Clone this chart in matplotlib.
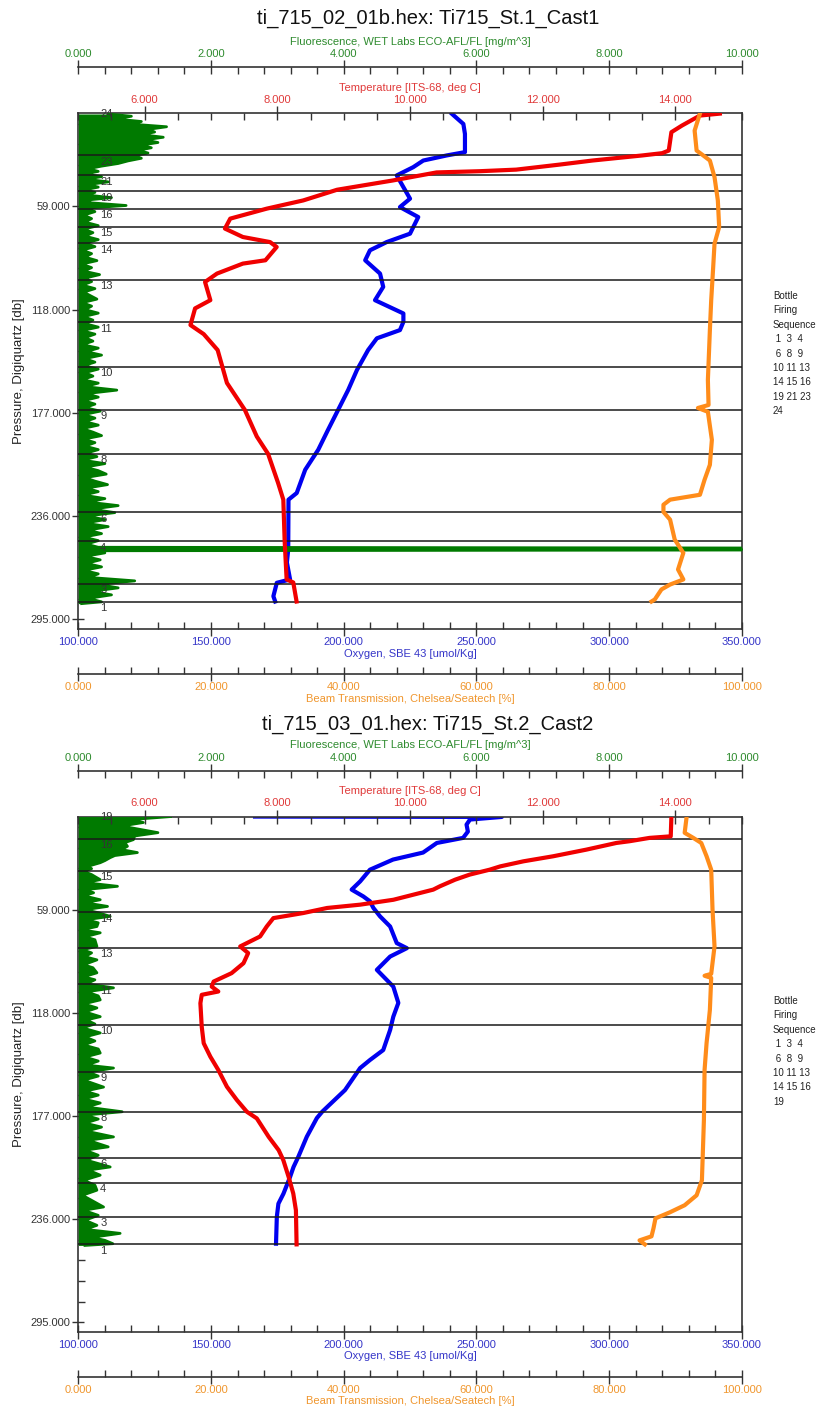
import matplotlib.pyplot as plt
from matplotlib.ticker import MultipleLocator, FixedLocator, FormatStrFormatter

plt.rcParams['font.family'] = ['Liberation Sans', 'DejaVu Sans']

# ---------------- Cast 1 ----------------
c1_title = 'ti_715_02_01b.hex: Ti715_St.1_Cast1'

c1_temp_p = [6.0, 7.1, 12.8, 16.6, 27.1, 28.6, 29.9, 32.8, 35.1, 38.0, 38.9, 39.6, 44.2, 49.5,
             55.6, 60.3, 66.0, 71.7, 76.5, 79.4, 82.2, 89.8, 91.7, 97.4, 102.2, 112.6, 117.3,
             126.8, 132.0, 141.1, 159.9, 175.3, 190.5, 200.4, 216.9, 226.6, 250.0, 272.2,
             273.9, 284.8]
c1_temp = [14.67, 14.37, 14.10, 13.94, 13.90, 13.80, 13.50, 12.75, 12.26, 11.60, 11.05, 10.40,
           9.74, 8.90, 8.39, 7.84, 7.29, 7.21, 7.48, 7.89, 7.99, 7.82, 7.48, 7.09, 6.91, 6.99,
           6.76, 6.69, 6.89, 7.10, 7.24, 7.51, 7.69, 7.86, 8.01, 8.09, 8.11, 8.14, 8.24, 8.29]

c1_oxy_p = [6.0, 11.9, 17.6, 28.0, 29.9, 32.8, 36.6, 41.3, 48.0, 54.6, 59.4, 65.1, 74.6, 79.4,
            84.1, 89.8, 97.4, 105.0, 112.6, 120.2, 125.0, 129.7, 134.4, 141.1, 152.5, 163.9,
            175.3, 186.7, 198.1, 209.5, 222.8, 226.6, 255.1, 262.5, 272.2, 274.1, 281.8, 284.8]
c1_oxy = [240.7, 245.1, 245.7, 245.7, 238.8, 230.0, 226.2, 220.0, 222.5, 225.0, 221.2, 228.1,
          225.0, 216.2, 209.9, 208.1, 213.7, 214.9, 211.8, 222.5, 222.5, 221.2, 212.5, 209.2,
          205.0, 201.7, 197.9, 194.1, 190.4, 185.5, 182.3, 179.2, 179.1, 178.6, 179.8, 174.8,
          173.5, 174.2]

c1_beam_p = [6.0, 15.7, 27.1, 29.9, 32.8, 42.3, 55.6, 70.8, 80.3, 93.6, 112.6, 129.7, 158.2,
             172.5, 174.2, 176.4, 192.4, 206.7, 215.2, 223.8, 226.6, 229.5, 233.6, 238.0, 249.4,
             257.0, 266.5, 272.2, 275.1, 277.9, 283.6, 284.8]
c1_beam = [93.7, 92.9, 93.2, 94.2, 95.2, 95.9, 96.4, 96.6, 95.9, 95.7, 95.4, 95.2, 94.9, 95.0,
           93.4, 94.9, 95.5, 95.2, 94.4, 93.7, 89.2, 88.2, 88.2, 89.2, 89.9, 91.2, 90.4, 91.2,
           89.2, 87.9, 86.9, 86.4]

c1_fl_p = [6.2, 7.5, 9, 10.5, 12, 13.5, 15, 16.5, 18, 19.5, 21, 22.5, 24, 25.5, 27, 28.5, 30,
           31.5, 33, 34.5, 36, 37.5, 39, 40.5, 42, 43.5, 45, 46.5, 48, 49.5, 51, 52.5, 54, 55.5,
           57, 58.5, 60, 62, 64, 66, 68, 70, 72, 74, 76, 78, 80, 82, 84, 86, 88, 90, 92, 94, 96,
           98, 100, 102, 104, 106, 108, 110, 112, 114, 116, 118, 120, 122, 124, 126, 128, 130,
           132, 134, 136, 138, 140, 142, 144, 146, 148, 150, 152, 154, 156, 158, 160, 162, 164,
           166, 168, 170, 172, 174, 176, 178, 180, 182, 184, 186, 188, 190, 192, 194, 196, 198,
           200, 202, 204, 206, 208, 210, 212, 214, 216, 218, 220, 222, 224, 226, 228, 230, 232,
           234, 236, 238, 240, 242, 244, 246, 248, 250, 252, 253.8, 254.3, 255.3, 255.8, 257,
           259, 261, 263, 265, 267, 269, 271, 273, 275, 277, 279, 281, 283, 285, 286]
c1_fl = [0.45, 0.8, 0.55, 0.95, 0.8, 1.33, 1.05, 1.15, 0.95, 1.28, 1.0, 1.2, 0.95, 1.1, 0.9,
         1.05, 0.85, 0.95, 0.75, 0.6, 0.35, 0.15, 0.3, 0.1, 0.35, 0.12, 0.45, 0.15, 0.3, 0.1,
         0.25, 0.12, 0.5, 0.1, 0.2, 0.72, 0.12, 0.25, 0.08, 0.2, 0.1, 0.3, 0.08, 0.22, 0.1, 0.3,
         0.1, 0.25, 0.06, 0.2, 0.1, 0.28, 0.05, 0.2, 0.08, 0.32, 0.1, 0.2, 0.06, 0.25, 0.08,
         0.18, 0.28, 0.06, 0.2, 0.1, 0.3, 0.08, 0.22, 0.1, 0.3, 0.05, 0.25, 0.1, 0.22, 0.06, 0.3,
         0.12, 0.35, 0.1, 0.25, 0.08, 0.3, 0.1, 0.22, 0.06, 0.3, 0.1, 0.58, 0.12, 0.3, 0.08,
         0.25, 0.1, 0.33, 0.08, 0.25, 0.1, 0.3, 0.06, 0.22, 0.35, 0.08, 0.25, 0.1, 0.3, 0.12,
         0.28, 0.06, 0.4, 0.1, 0.3, 0.42, 0.1, 0.25, 0.44, 0.12, 0.3, 0.08, 0.4, 0.15, 0.6, 0.2,
         0.55, 0.12, 0.4, 0.1, 0.45, 0.15, 0.35, 0.08, 0.3, 0.12, 0.3, 12.0, 12.0, 0.25, 0.4,
         0.1, 0.33, 0.12, 0.35, 0.08, 0.3, 0.15, 0.85, 0.3, 0.6, 0.2, 0.5, 0.15, 0.35, 0.05]

c1_bottle_p = [2.5, 29.9, 41.2, 50.3, 60.3, 70.6, 80.1, 100.8, 125.3, 150.6, 175.3, 200.5,
               233.8, 250.4, 274.7, 284.9]
c1_bottle_n = [24, 23, 21, 19, 16, 15, 14, 13, 11, 10, 9, 8, 6, 4, 3, 1]
c1_sequence = 'Bottle\nFiring\nSequence\n 1  3  4\n 6  8  9\n10 11 13\n14 15 16\n19 21 23\n24'

# ---------------- Cast 2 ----------------
c2_title = 'ti_715_03_01.hex: Ti715_St.2_Cast2'

c2_temp_p = [5.7, 17.0, 17.9, 19.8, 20.8, 24.6, 28.4, 31.3, 34.2, 36.1, 38.9, 41.8, 45.6, 47.5,
             53.3, 56.1, 58.0, 60.9, 63.8, 68.6, 74.3, 78.1, 80.0, 83.8, 89.6, 95.3, 100.1,
             103.0, 105.8, 107.7, 112.5, 125.9, 135.4, 143.1, 150.7, 160.3, 167.9, 174.6, 178.4,
             189.0, 196.6, 202.3, 211.9, 221.4, 231.0, 250.5]
c2_temp = [13.94, 13.93, 13.61, 13.31, 13.11, 12.66, 12.16, 11.71, 11.36, 11.20, 10.90, 10.68,
           10.45, 10.35, 9.75, 9.25, 8.75, 8.39, 7.94, 7.84, 7.74, 7.54, 7.44, 7.56, 7.49, 7.31,
           7.04, 7.01, 7.11, 6.86, 6.84, 6.86, 6.89, 6.99, 7.11, 7.24, 7.39, 7.54, 7.69, 7.87,
           8.02, 8.09, 8.17, 8.24, 8.28, 8.29]

c2_oxy_p = [5.7, 5.9, 7.4, 10.3, 14.3, 17.9, 20.8, 26.3, 30.3, 36.1, 42.8, 47.5, 51.4, 54.2,
            58.0, 62.8, 68.6, 78.1, 81.0, 85.8, 93.4, 103.0, 112.3, 120.2, 127.8, 139.3, 145.0,
            149.6, 162.2, 174.6, 178.2, 188.9, 200.4, 206.2, 211.9, 221.5, 227.2, 234.8, 250.1]
c2_oxy = [166.6, 259.6, 247.6, 246.3, 246.8, 245.0, 235.1, 229.9, 218.6, 209.9, 206.2, 203.0,
          207.4, 209.9, 211.2, 213.7, 217.5, 220.0, 223.8, 217.5, 212.5, 218.7, 220.6, 218.7,
          217.5, 214.9, 209.9, 206.2, 200.5, 191.9, 189.9, 186.1, 182.9, 181.1, 179.8, 177.3,
          175.4, 174.8, 174.5]

c2_beam_p = [5.7, 15.0, 17.9, 20.8, 28.4, 36.1, 59.0, 80.0, 95.7, 96.8, 98.0, 116.3, 135.4,
             150.7, 179.4, 213.8, 222.4, 228.1, 232.1, 235.6, 241.3, 245.9, 248.2, 250.5]
c2_beam = [91.7, 91.4, 92.7, 93.9, 94.7, 95.4, 95.6, 95.9, 95.4, 94.4, 95.4, 95.2, 94.7, 94.4,
           94.3, 94.0, 93.2, 91.4, 89.2, 87.0, 86.7, 86.4, 84.6, 85.4]

c2_fl_p = [5.7, 7.4, 9.1, 10.8, 12.0, 14.9, 16.8, 18.9, 20.6, 22.7, 24.6, 26.3, 28.0, 29.2,
           30.9, 32.1, 34.2, 35.5, 37.0, 38.9, 41.8, 43.5, 45.6, 47.5, 49.3, 51.0, 53.3, 55.0,
           57.1, 59.0, 60.7, 62.8, 64.7, 66.5, 68.6, 70.5, 72.2, 74.5, 76.2, 80.0, 81.9, 83.7,
           85.9, 87.7, 90.5, 92.2, 95.1, 97.4, 99.1, 101.4, 103.7, 106.0, 108.3, 110.6, 112.9,
           115.2, 117.5, 120.2, 122.1, 124.4, 126.6, 129.5, 131.8, 134.1, 136.4, 138.7, 141.0,
           143.3, 145.6, 147.9, 149.6, 151.9, 154.2, 156.5, 160.5, 162.8, 165.1, 167.3, 169.6,
           171.9, 174.6, 176.5, 178.8, 181.1, 183.4, 185.7, 189.0, 190.9, 192.6, 194.7, 196.6,
           199.5, 202.3, 206.2, 208.0, 210.9, 213.8, 216.6, 219.5, 222.4, 225.3, 229.1, 231.0,
           233.9, 236.7, 239.6, 241.9, 244.2, 246.5, 248.2, 250.1, 251.1]
c2_fl = [1.39, 0.8, 0.98, 0.7, 0.78, 1.2, 0.85, 0.83, 0.7, 0.74, 0.65, 0.89, 0.55, 0.48, 0.4,
         0.33, 0.14, 0.2, 0.08, 0.2, 0.33, 0.1, 0.59, 0.1, 0.23, 0.08, 0.33, 0.1, 0.44, 0.1,
         0.3, 0.48, 0.12, 0.3, 0.28, 0.05, 0.33, 0.1, 0.25, 0.28, 0.06, 0.2, 0.1, 0.28, 0.08,
         0.22, 0.28, 0.08, 0.25, 0.12, 0.53, 0.12, 0.3, 0.33, 0.08, 0.28, 0.1, 0.33, 0.12, 0.25,
         0.06, 0.33, 0.1, 0.25, 0.08, 0.3, 0.33, 0.1, 0.3, 0.12, 0.53, 0.15, 0.3, 0.08, 0.38,
         0.1, 0.3, 0.08, 0.33, 0.12, 0.66, 0.1, 0.3, 0.1, 0.35, 0.12, 0.53, 0.15, 0.28, 0.45,
         0.1, 0.3, 0.12, 0.48, 0.15, 0.33, 0.08, 0.25, 0.28, 0.06, 0.2, 0.38, 0.08, 0.3, 0.1,
         0.28, 0.1, 0.63, 0.2, 0.4, 0.52, 0.1]

c2_bottle_p = [2.5, 18.5, 36.6, 60.5, 80.8, 101.6, 124.9, 151.7, 174.6, 200.8, 215.3, 234.6,
               250.5]
c2_bottle_n = [19, 16, 15, 14, 13, 11, 10, 9, 8, 6, 4, 3, 1]
c2_sequence = 'Bottle\nFiring\nSequence\n 1  3  4\n 6  8  9\n10 11 13\n14 15 16\n19'

pressure_ticks = [59, 118, 177, 236, 295]

GREEN = '#007a00'
RED = '#f00000'
BLUE = '#0000f0'
ORANGE = '#ff8c1a'
TICK = '#333333'


def x_scale(a, lo, hi, major, minor, color):
    a.set_xlim(lo, hi)
    a.xaxis.set_major_locator(MultipleLocator(major))
    a.xaxis.set_minor_locator(MultipleLocator(minor))
    a.xaxis.set_major_formatter(FormatStrFormatter('%.3f'))
    a.tick_params(axis='x', which='major', direction='inout', length=10, width=1,
                  color=TICK, labelcolor=color, labelsize=8, pad=1)
    a.tick_params(axis='x', which='minor', direction='in', length=5, width=1, color=TICK)


def draw_cast(rect, title, title_y, seq, seq_y, temp_p, temp, oxy_p, oxy, beam_p, beam,
              fl_p, fl, bottle_p, bottle_n):
    ax = fig.add_axes(rect)
    ax.set_ylim(300.5, 5.8)
    ax.yaxis.set_major_locator(FixedLocator(pressure_ticks))
    ax.yaxis.set_minor_locator(MultipleLocator(11.8))
    ax.yaxis.set_major_formatter(FormatStrFormatter('%.3f'))
    ax.tick_params(axis='y', which='major', direction='inout', length=9, width=1,
                   color=TICK, labelcolor='#333333', labelsize=8, pad=1, right=False)
    ax.tick_params(axis='y', which='minor', direction='in', length=5, width=1,
                   color=TICK, right=False)
    ax.set_ylabel('Pressure, Digiquartz [db]', fontsize=9.5, color='#222222')
    for s in ax.spines.values():
        s.set_color(TICK)
        s.set_linewidth(1.2)

    # oxygen on the main axis (bottom)
    x_scale(ax, 100, 350, 50, 10, '#3535c8')
    ax.set_xlabel('Oxygen, SBE 43 [umol/Kg]', fontsize=8, color='#3535c8', labelpad=1)
    ax.plot(oxy, oxy_p, color=BLUE, lw=3)

    # fluorescence, detached top axis
    ax_f = ax.twiny()
    for s in ax_f.spines.values():
        s.set_visible(False)
    ax_f.spines['top'].set_visible(True)
    ax_f.spines['top'].set_position(('outward', 33))
    ax_f.spines['top'].set_color(TICK)
    ax_f.spines['top'].set_linewidth(1.2)
    x_scale(ax_f, 0, 10, 2, 0.4, '#2e8b2e')
    ax_f.set_xlabel('Fluorescence, WET Labs ECO-AFL/FL [mg/m^3]', fontsize=8,
                    color='#2e8b2e', labelpad=3)
    ax_f.fill_betweenx(fl_p, 0, fl, color=GREEN, lw=0)
    ax_f.plot(fl, fl_p, color=GREEN, lw=2)
    for p in bottle_p:
        ax_f.axhline(p, color='#1a1a1a', lw=1.1)

    # temperature, top of the frame
    ax_t = ax.twiny()
    for s in ax_t.spines.values():
        s.set_visible(False)
    x_scale(ax_t, 5, 15, 2, 0.5, '#e03a3a')
    ax_t.set_xlabel('Temperature [ITS-68, deg C]', fontsize=8, color='#e03a3a', labelpad=3)
    ax_t.plot(temp, temp_p, color=RED, lw=3)

    # beam transmission, detached bottom axis
    ax_b = ax.twiny()
    for s in ax_b.spines.values():
        s.set_visible(False)
    ax_b.xaxis.set_ticks_position('bottom')
    ax_b.xaxis.set_label_position('bottom')
    ax_b.spines['bottom'].set_visible(True)
    ax_b.spines['bottom'].set_position(('outward', 32.4))
    ax_b.spines['bottom'].set_color(TICK)
    ax_b.spines['bottom'].set_linewidth(1.2)
    x_scale(ax_b, 0, 100, 20, 4, '#f0962d')
    ax_b.set_xlabel('Beam Transmission, Chelsea/Seatech [%]', fontsize=8,
                    color='#f0962d', labelpad=1)
    ax_b.plot(beam, beam_p, color=ORANGE, lw=3)

    for p, n in zip(bottle_p, bottle_n):
        ax_b.text(0.033, p + 0.8, str(n), transform=ax_b.get_yaxis_transform(),
                  ha='left', va='top', fontsize=8, color='#333333')

    fig.text(0.517, title_y, title, ha='center', va='center', fontsize=14.5, color='#111111')
    fig.text(0.9336, seq_y, seq, ha='left', va='top', fontsize=7, linespacing=1.55,
             color='#222222')


fig = plt.figure(figsize=(8.28, 14.16), dpi=100)

draw_cast([0.0946, 0.5558, 0.8012, 0.3642], c1_title, 1 - 18 / 1416, c1_sequence,
          1 - 291 / 1416, c1_temp_p, c1_temp, c1_oxy_p, c1_oxy, c1_beam_p, c1_beam,
          c1_fl_p, c1_fl, c1_bottle_p, c1_bottle_n)
draw_cast([0.0946, 0.0595, 0.8012, 0.3637], c2_title, 1 - 724 / 1416, c2_sequence,
          1 - 996 / 1416, c2_temp_p, c2_temp, c2_oxy_p, c2_oxy, c2_beam_p, c2_beam,
          c2_fl_p, c2_fl, c2_bottle_p, c2_bottle_n)

fig.savefig('out.png', dpi=100)
